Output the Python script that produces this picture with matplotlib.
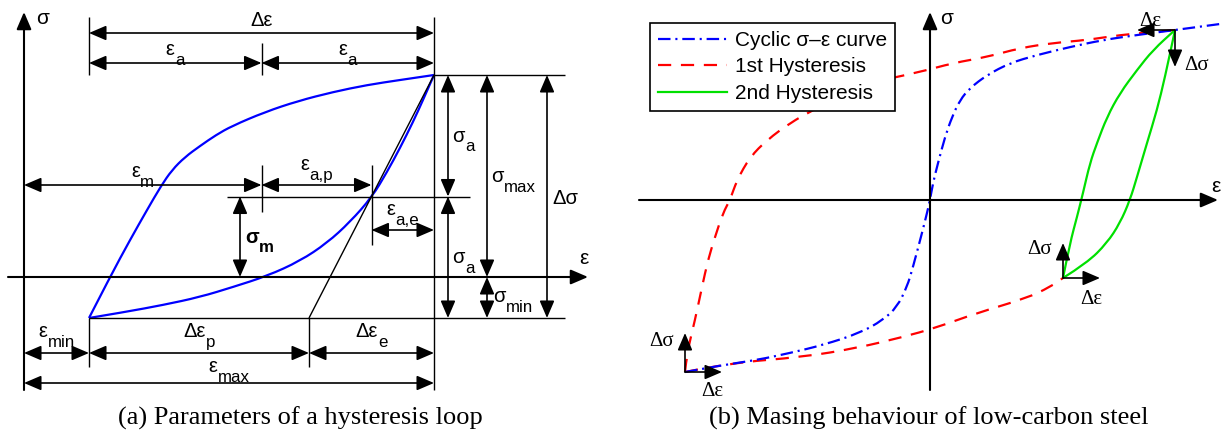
import matplotlib.pyplot as plt
from matplotlib.lines import Line2D
from matplotlib.path import Path
from matplotlib.patches import PathPatch
from matplotlib.transforms import Affine2D

plt.rcParams.update({
    "font.family": "Liberation Sans",
    "lines.scale_dashes": False,
})

# ================================
#  (a) hysteresis loop  (strain / stress in drawing units)
# ================================
eps_min, eps_max = 65, 410
sig_min, sig_max = -41, 202
d_eps_e = 125                      # elastic strain range

up_eps = [65, 86, 106, 123, 137, 148, 161, 176, 192, 208, 241, 274, 309, 343, 376, 410]
up_sig = [-41, 0, 37, 67, 91, 107, 120, 131, 142, 151, 165, 176, 185, 192, 197, 202]
lo_eps = [65, 101, 139, 176, 209, 243, 276, 303, 326, 348, 363, 376, 389, 399, 410]
lo_sig = [-41, -35, -28, -20, -10, 1, 16, 34, 55, 80, 105, 129, 155, 177, 202]

# ================================
#  (b) Masing behaviour
# ================================
cyc_eps = [-245, -207, -173, -140, -107, -70, -47, -33, -23, -17, -8, -3, 0,
           3, 8, 15, 22, 30, 40, 57, 80, 107, 140, 173, 207, 245, 290]
cyc_sig = [-172, -165, -160, -153, -145, -133, -120, -107, -87, -67, -33, -13, 0,
           17, 37, 63, 83, 100, 112, 125, 137, 145, 153, 160, 165, 170, 176]

h1_up_eps = [-245, -243, -235, -228, -222, -215, -207, -200, -193, -180, -163, -140,
             -117, -83, -57, -10, 23, 57, 90, 123, 157, 190, 223, 245]
h1_up_sig = [-172, -153, -120, -87, -60, -37, -13, 0, 20, 43, 60, 77,
             90, 107, 118, 128, 137, 143, 152, 157, 160, 165, 168, 170]
h1_lo_eps = [-245, -200, -127, -73, -27, 5, 47, 97, 120, 133]
h1_lo_sig = [-172, -163, -157, -148, -137, -128, -113, -98, -87, -78]

h2_up_eps = [133, 140, 147, 153, 160, 167, 177, 190, 207, 223, 245]
h2_up_sig = [-78, -43, -17, 7, 37, 57, 83, 107, 130, 150, 170]
h2_lo_eps = [133, 157, 177, 190, 200, 207, 217, 227, 235, 245]
h2_lo_sig = [-78, -63, -43, -23, 0, 23, 57, 90, 123, 170]

tips = [(245, 170), (-245, -172), (133, -78)]

# ================================
#  helpers
# ================================
HEAD = "head_length=1.05,head_width=0.45"
BLUE, RED, GREEN = "#0000ff", "#ff0000", "#00e000"
DASH = (0, (9.5, 7))
DASHDOT = (0, (9, 3.5, 1.5, 3.5))
pending = []


def arrow(ax, p0, p1, both=False, lw=1.2):
    style = ("<|-|>," if both else "-|>,") + HEAD
    ax.annotate("", xy=p1, xytext=p0,
                arrowprops=dict(arrowstyle=style, color="k", lw=lw,
                                shrinkA=0, shrinkB=0, mutation_scale=10))


def line(ax, xs, ys, lw=1.0):
    ax.plot(xs, ys, color="k", lw=lw, solid_capstyle="butt", clip_on=False)


def curve(ax, xs, ys, **kw):
    # quadratic B-spline through the read points (points act as control points)
    pts = list(zip(xs, ys))
    verts, codes = [pts[0]], [Path.MOVETO]
    for i in range(1, len(pts) - 1):
        mid = ((pts[i][0] + pts[i + 1][0]) / 2, (pts[i][1] + pts[i + 1][1]) / 2)
        verts += [pts[i], mid]
        codes += [Path.CURVE3, Path.CURVE3]
    verts.append(pts[-1])
    codes.append(Path.LINETO)
    ax.add_patch(PathPatch(Path(verts, codes), fill=False, clip_on=False,
                           capstyle="butt", **kw))


def sym(ax, x, y, main, sub="", ha="center", size=14.5, bold=False):
    w = "bold" if bold else "normal"
    t = ax.text(x, y, main, fontsize=size, ha="left", va="baseline", fontweight=w)
    s = None
    if sub:
        s = ax.annotate(sub, xy=(1, 0), xycoords=t, xytext=(0.3, -4.0),
                        textcoords="offset points", fontsize=size * 0.84,
                        ha="left", va="baseline", fontweight=w)
    pending.append((t, s, ha))


fig = plt.figure(figsize=(12.22, 4.37), dpi=100)

# ================================
#  panel (a)
# ================================
ax = fig.add_axes([0, 0, 1, 1])
ax.set_xlim(-24, 1198)
ax.set_ylim(-160, 277)
ax.set_axis_off()

eps_m = (eps_min + eps_max) / 2
sig_m = (sig_min + sig_max) / 2
eps_e0 = eps_max - d_eps_e
eps_ae = eps_max - d_eps_e / 2

# axes
arrow(ax, (0, -113), (0, 265), lw=1.5)
arrow(ax, (-16, 0), (564, 0), lw=1.5)
ax.text(12, 258, "σ", fontsize=15, ha="left", va="center")
ax.text(560, 19, "ε", fontsize=15, ha="center", va="center")

# extension lines
line(ax, [eps_min, eps_min], [260, sig_max])
line(ax, [eps_max, eps_max], [260, -113])
line(ax, [eps_m, eps_m], [234, sig_max])
line(ax, [eps_m, eps_m], [112, 65])
line(ax, [eps_ae, eps_ae], [112, 32])
line(ax, [eps_max, 541], [sig_max, sig_max])
line(ax, [eps_min, 541], [sig_min, sig_min])
line(ax, [203, 446], [sig_m, sig_m])
line(ax, [eps_min, eps_min], [sig_min, -90])
line(ax, [eps_e0, eps_e0], [sig_min, -90])

# elastic line
line(ax, [eps_e0, eps_max], [sig_min, sig_max], lw=1.0)

# loop
curve(ax, up_eps, up_sig, edgecolor=BLUE, lw=1.6)
curve(ax, lo_eps, lo_sig, edgecolor=BLUE, lw=1.6)

# strain dimensions
arrow(ax, (eps_min, 244), (eps_max, 244), both=True)
arrow(ax, (eps_min, 214), (eps_m, 214), both=True)
arrow(ax, (eps_m, 214), (eps_max, 214), both=True)
arrow(ax, (0, 92), (eps_m, 92), both=True)
arrow(ax, (eps_m, 92), (eps_ae, 92), both=True)
arrow(ax, (eps_ae, 47), (eps_max, 47), both=True)
arrow(ax, (0, -76), (eps_min, -76), both=True)
arrow(ax, (eps_min, -76), (eps_e0, -76), both=True)
arrow(ax, (eps_e0, -76), (eps_max, -76), both=True)
arrow(ax, (0, -106), (eps_max, -106), both=True)

# stress dimensions
arrow(ax, (424, sig_max), (424, sig_m), both=True)
arrow(ax, (424, sig_m), (424, sig_min), both=True)
arrow(ax, (463, sig_max), (463, 0), both=True)
arrow(ax, (463, 0), (463, sig_min), both=True)
arrow(ax, (523, sig_max), (523, sig_min), both=True)
arrow(ax, (216, sig_m), (216, 0), both=True)

sym(ax, (eps_min + eps_max) / 2, 251, "Δε")
sym(ax, (eps_min + eps_m) / 2, 222, "ε", "a")
sym(ax, (eps_m + eps_max) / 2, 222, "ε", "a")
sym(ax, eps_m / 2, 100, "ε", "m")
sym(ax, (eps_m + eps_ae) / 2, 107, "ε", "a,p")
sym(ax, (eps_ae + eps_max) / 2, 62, "ε", "a,e")
sym(ax, eps_min / 2, -60, "ε", "min")
sym(ax, (eps_min + eps_e0) / 2, -60, "Δε", "p")
sym(ax, (eps_e0 + eps_max) / 2, -60, "Δε", "e")
sym(ax, eps_max / 2, -95, "ε", "max")
sym(ax, 428, (sig_max + sig_m) / 2 - 6, "σ", "a", ha="left")
sym(ax, 428, (sig_m + sig_min) / 2 - 6, "σ", "a", ha="left")
sym(ax, 467, sig_max / 2 - 6, "σ", "max", ha="left")
sym(ax, 469, sig_min / 2 - 5, "σ", "min", ha="left")
sym(ax, 528, (sig_max + sig_min) / 2 - 8, "Δσ", ha="left")
sym(ax, 221, sig_m / 2 - 6, "σ", "m", ha="left", bold=True)

fig.text(300 / 1222, 12 / 437, "(a) Parameters of a hysteresis loop",
         family="Liberation Serif", fontsize=19, ha="center", va="baseline")

# ================================
#  panel (b)
# ================================
bx = fig.add_axes([0, 0, 1, 1])
bx.set_xlim(-930, 292)
bx.set_ylim(-237, 200)
bx.set_axis_off()

arrow(bx, (0, -190), (0, 188), lw=1.5)
arrow(bx, (-291, 0), (288, 0), lw=1.5)
bx.text(10, 182, "σ", fontsize=15, ha="left", va="center")
bx.text(286, 13, "ε", fontsize=15, ha="center", va="center")

curve(bx, h1_up_eps, h1_up_sig, edgecolor=RED, lw=1.6, linestyle=DASH)
curve(bx, h1_lo_eps, h1_lo_sig, edgecolor=RED, lw=1.6, linestyle=DASH)
curve(bx, cyc_eps, cyc_sig, edgecolor=BLUE, lw=1.6, linestyle=DASHDOT)
curve(bx, h2_up_eps, h2_up_sig, edgecolor=GREEN, lw=1.6)
curve(bx, h2_lo_eps, h2_lo_sig, edgecolor=GREEN, lw=1.6)

# increments at the reversal points
(ux, uy), (lx, ly), (mx, my) = tips
arrow(bx, (ux, uy), (ux - 38, uy))
arrow(bx, (ux, uy), (ux, uy - 37))
arrow(bx, (lx, ly), (lx, ly + 39))
arrow(bx, (lx, ly), (lx + 37, ly))
arrow(bx, (mx, my), (mx, my + 35))
arrow(bx, (mx, my), (mx + 37, my))

serif = dict(family="Liberation Serif", fontsize=15, ha="center", va="center")
bx.text(ux - 25, uy + 9, "Δε", **serif)
bx.text(ux + 22, uy - 36, "Δσ", **serif)
bx.text(lx - 23, ly + 31, "Δσ", **serif)
bx.text(lx + 27, ly - 20, "Δε", **serif)
bx.text(mx - 23, my + 29, "Δσ", **serif)
bx.text(mx + 28, my - 21, "Δε", **serif)

handles = [Line2D([], [], color=BLUE, lw=1.6, ls=DASHDOT),
           Line2D([], [], color=RED, lw=1.6, ls=DASH),
           Line2D([], [], color=GREEN, lw=1.6)]
labels = ["Cyclic σ–ε curve", "1st Hysteresis", "2nd Hysteresis"]
leg = bx.legend(handles, labels, loc="upper left",
                bbox_to_anchor=(650 / 1222, 1 - 23 / 437),
                bbox_transform=fig.transFigure, borderaxespad=0, fontsize=15,
                frameon=True, fancybox=False, edgecolor="black", framealpha=1,
                handlelength=3.3, handletextpad=0.4, labelspacing=0.36, borderpad=0.38)
leg.get_frame().set_linewidth(1.2)

fig.text(929 / 1222, 12 / 437, "(b) Masing behaviour of low-carbon steel",
         family="Liberation Serif", fontsize=19, ha="center", va="baseline")

# centre the symbol labels (main + subscript) on their anchors
fig.canvas.draw()
renderer = fig.canvas.get_renderer()
for t, s, ha in pending:
    x0 = t.get_window_extent(renderer).x0
    x1 = (s or t).get_window_extent(renderer).x1
    shift = {"left": 0, "center": (x1 - x0) / 2}[ha]
    t.set_transform(t.get_transform() + Affine2D().translate(-shift, 0))

fig.savefig("out.png", dpi=100)
